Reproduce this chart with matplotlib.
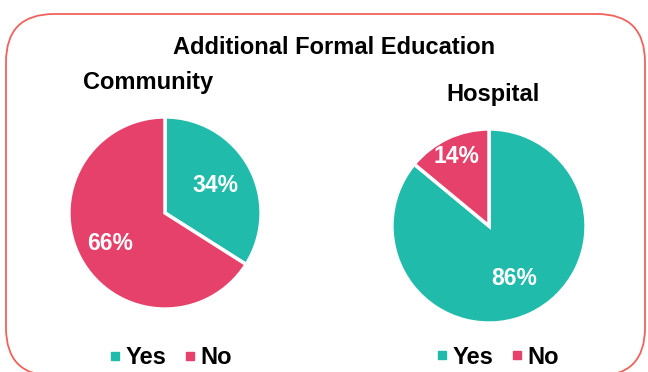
import matplotlib
matplotlib.use("Agg")
import matplotlib.pyplot as plt
from matplotlib.patches import FancyBboxPatch
from matplotlib.lines import Line2D
from matplotlib.transforms import IdentityTransform

plt.rcParams['font.family'] = ['Liberation Sans', 'DejaVu Sans']

labels = ["Yes", "No"]
community = [34, 66]
hospital = [86, 14]
colors = ["#20BBAA", "#E5416A"]

W, H = 648, 372
fig = plt.figure(figsize=(W / 100, H / 100), dpi=100)


def px_axes(cx, cy, r):
    # axes box (pixels, origin top-left) -> figure fraction
    return fig.add_axes([(cx - r) / W, (H - cy - r) / H, 2 * r / W, 2 * r / H])


# rounded frame, in pixels; bottom edge runs just past the canvas
frame = FancyBboxPatch((6, H - 376), 639, 362,
                       boxstyle="round,pad=0,rounding_size=48",
                       transform=IdentityTransform(),
                       facecolor="none", edgecolor="#F0625C", linewidth=1.3)
fig.patches.append(frame)


def draw_pie(ax, values, pct_pos):
    wedges, texts, autotexts = ax.pie(
        values, colors=colors, startangle=90, counterclock=False,
        autopct="%d%%", pctdistance=0.6,
        wedgeprops=dict(edgecolor="white", linewidth=2.5),
        textprops=dict(color="white", fontsize=16.5, fontweight="bold"))
    for t, d in zip(autotexts, pct_pos):
        x, y = t.get_position()
        t.set_position((x * d / 0.6, y * d / 0.6))
    ax.set_xlim(-1.02, 1.02)
    ax.set_ylim(-1.02, 1.02)
    return wedges


ax1 = px_axes(165, 213, 98)
draw_pie(ax1, community, [0.6, 0.65])
ax2 = px_axes(489, 226, 99)
draw_pie(ax2, hospital, [0.6, 0.79])

fig.text(334 / W, 1 - 47 / H, "Additional Formal Education", ha="center", va="center",
         fontsize=17, fontweight="bold")
fig.text(148 / W, 1 - 82 / H, "Community", ha="center", va="center",
         fontsize=17, fontweight="bold")
fig.text(493 / W, 1 - 95 / H, "Hospital", ha="center", va="center",
         fontsize=17, fontweight="bold")

handles = [Line2D([], [], marker="s", linestyle="none", markersize=6,
                  markerfacecolor=c, markeredgecolor=c) for c in colors]
for cx, cy in [(170, 358), (497, 357)]:
    fig.legend(handles, labels, loc="center", bbox_to_anchor=(cx / W, 1 - cy / H),
               ncol=2, frameon=False, handlelength=0.6, handletextpad=0.15,
               columnspacing=0.7, prop=dict(size=17, weight="bold"))

fig.savefig("out.png", dpi=100)
